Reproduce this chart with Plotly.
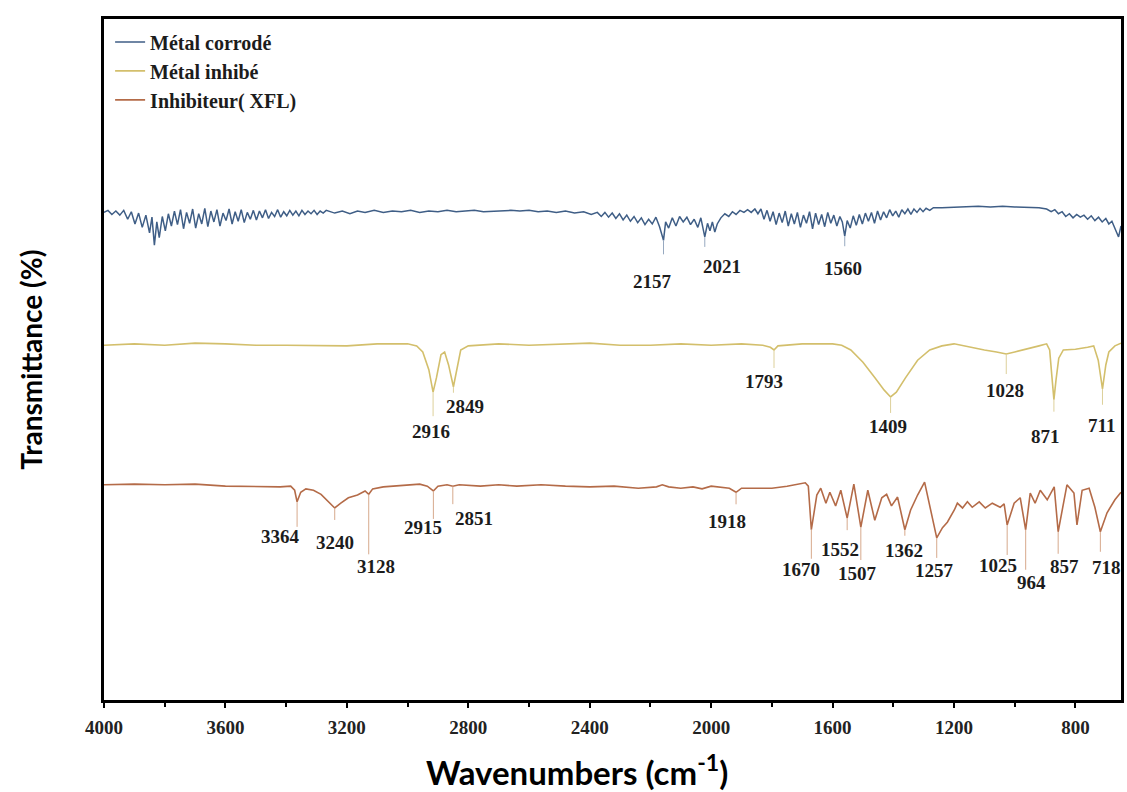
import plotly.graph_objects as go

# ---------------------------------------------------------------------------
# FTIR spectra (wavenumber in cm-1, transmittance in %, traces offset)
# ---------------------------------------------------------------------------

# Métal corrodé
corr_wn = [4000, 3987, 3974, 3961, 3948, 3935, 3922, 3910, 3898, 3886,
           3874, 3862, 3850, 3842, 3834, 3826, 3818, 3808, 3798, 3788,
           3778, 3768, 3758, 3748, 3738, 3728, 3718, 3708, 3698, 3688,
           3678, 3668, 3658, 3648, 3638, 3628, 3618, 3608, 3598, 3588,
           3578, 3568, 3558, 3548, 3538, 3528, 3518, 3508, 3498, 3488,
           3478, 3468, 3458, 3448, 3438, 3428, 3418, 3408, 3398, 3388,
           3378, 3368, 3358, 3348, 3338, 3328, 3318, 3308, 3298, 3288,
           3278, 3268, 3240, 3215, 3190, 3165, 3140, 3110, 3080, 3050,
           3020, 2990, 2960, 2930, 2900, 2870, 2840, 2810, 2780, 2750,
           2720, 2690, 2660, 2630, 2600, 2570, 2540, 2510, 2480, 2450,
           2420, 2395, 2375, 2362, 2350, 2338, 2326, 2314, 2302, 2290,
           2278, 2266, 2254, 2242, 2230, 2218, 2206, 2194, 2182, 2170,
           2157, 2150, 2140, 2128, 2116, 2104, 2092, 2080, 2068, 2056,
           2044, 2034, 2021, 2012, 2004, 1996, 1988, 1980, 1968, 1955,
           1942, 1930, 1918, 1905, 1892, 1880, 1868, 1856, 1846, 1836,
           1826, 1816, 1806, 1796, 1786, 1776, 1766, 1756, 1746, 1736,
           1726, 1716, 1706, 1696, 1686, 1676, 1666, 1656, 1646, 1636,
           1626, 1616, 1606, 1596, 1586, 1576, 1568, 1560, 1552, 1542,
           1532, 1522, 1512, 1502, 1492, 1482, 1472, 1462, 1452, 1442,
           1432, 1422, 1412, 1402, 1392, 1382, 1372, 1362, 1352, 1342,
           1332, 1322, 1312, 1302, 1292, 1280, 1268, 1240, 1200, 1160,
           1120, 1080, 1040, 1000, 960, 920, 895, 880, 868, 856,
           844, 832, 820, 808, 796, 784, 772, 760, 748, 736,
           724, 712, 700, 690, 680, 672, 664, 658, 652, 650]
corr_t = [71.6, 71.9, 71.3, 71.8, 71.2, 71.9, 70.6, 71.7, 69.9, 71.5,
          69.4, 71.2, 68.6, 70.9, 66.8, 70.2, 67.9, 71.0, 68.9, 71.4,
          69.6, 71.8, 69.8, 72.0, 69.2, 71.6, 70.0, 72.1, 69.3, 71.4,
          69.9, 72.2, 69.5, 71.8, 70.2, 72.0, 69.6, 71.5, 70.4, 72.1,
          69.9, 71.7, 70.3, 72.0, 70.1, 71.6, 70.6, 71.9, 70.5, 71.8,
          70.8, 72.0, 70.7, 71.6, 71.0, 72.0, 70.9, 71.7, 71.1, 71.9,
          71.2, 71.8, 71.1, 71.9, 71.3, 71.8, 71.4, 71.9, 71.3, 71.8,
          71.5, 71.9, 71.5, 71.8, 71.4, 71.8, 71.6, 71.9, 71.6, 71.8,
          71.7, 71.9, 71.6, 71.8, 71.7, 71.9, 71.7, 71.8, 71.9, 71.7,
          71.8, 71.8, 71.9, 71.8, 71.9, 71.7, 71.8, 71.6, 71.8, 71.5,
          71.7, 71.3, 71.6, 71.0, 71.6, 70.9, 71.5, 70.7, 71.4, 70.5,
          71.2, 70.3, 71.0, 70.1, 70.8, 69.8, 70.6, 69.9, 70.9, 69.5,
          67.5, 70.2, 69.3, 70.8, 69.6, 71.0, 70.2, 70.9, 69.8, 70.6,
          69.4, 70.8, 68.0, 70.0, 68.9, 70.2, 68.7, 69.9, 70.8, 71.4,
          71.0, 71.7, 71.3, 71.9, 71.6, 72.0, 71.6, 72.1, 71.4, 72.1,
          70.6, 71.9, 70.3, 71.7, 69.8, 71.5, 70.1, 71.8, 69.6, 71.4,
          69.9, 71.6, 69.4, 71.2, 70.0, 71.7, 69.2, 71.5, 69.8, 71.3,
          69.5, 71.6, 70.0, 71.2, 69.6, 71.0, 70.2, 68.1, 70.4, 69.3,
          71.1, 69.7, 71.3, 69.9, 71.5, 70.3, 71.6, 70.0, 71.8, 70.5,
          71.7, 70.8, 72.0, 71.1, 71.8, 70.9, 72.0, 71.4, 72.1, 71.3,
          72.1, 71.6, 72.2, 71.7, 72.2, 71.9, 72.3, 72.3, 72.4, 72.4,
          72.5, 72.4, 72.5, 72.4, 72.3, 72.3, 72.1, 71.7, 72.0, 71.4,
          71.7, 71.0, 71.4, 70.8, 71.3, 70.9, 71.2, 70.6, 71.1, 70.4,
          70.9, 70.2, 70.7, 69.9, 70.3, 69.4, 68.5, 68.0, 69.2, 69.6]

# Métal inhibé
inh_wn = [4000, 3900, 3800, 3700, 3600, 3500, 3400, 3300, 3200, 3100,
          3000, 2970, 2950, 2930, 2916, 2905, 2890, 2878, 2865, 2849,
          2838, 2825, 2800, 2700, 2600, 2500, 2400, 2300, 2200, 2100,
          2000, 1900, 1830, 1805, 1793, 1780, 1700, 1600, 1570, 1540,
          1500, 1460, 1430, 1409, 1390, 1360, 1320, 1280, 1240, 1200,
          1150, 1100, 1060, 1028, 1000, 960, 920, 895, 885, 878,
          871, 864, 855, 840, 800, 760, 740, 725, 711, 700,
          690, 670, 650]
inh_t = [52.1, 52.3, 52.1, 52.4, 52.3, 52.1, 52.1, 52.1, 52.0, 52.3,
         52.3, 52.0, 51.1, 48.5, 45.2, 47.3, 50.7, 51.1, 49.2, 46.0,
         48.5, 51.4, 52.0, 52.3, 52.1, 52.3, 52.4, 52.1, 52.1, 52.3,
         52.1, 52.3, 52.1, 51.8, 51.4, 52.0, 52.3, 52.3, 52.1, 51.4,
         49.6, 47.3, 45.5, 44.5, 45.2, 47.3, 49.9, 51.4, 52.0, 52.3,
         51.8, 51.4, 51.1, 50.8, 51.1, 51.5, 52.0, 52.3, 51.4, 47.7,
         44.1, 47.0, 50.2, 51.4, 51.5, 51.8, 52.0, 49.9, 45.7, 49.2,
         51.1, 52.0, 52.4]

# Inhibiteur (XFL)
xfl_wn = [4000, 3900, 3800, 3700, 3600, 3500, 3420, 3385, 3372, 3364,
          3352, 3335, 3310, 3285, 3262, 3240, 3220, 3195, 3165, 3140,
          3128, 3115, 3080, 3040, 3000, 2960, 2935, 2915, 2900, 2870,
          2851, 2830, 2760, 2700, 2640, 2560, 2480, 2400, 2320, 2240,
          2180, 2161, 2140, 2100, 2060, 2030, 2000, 1970, 1940, 1918,
          1900, 1860, 1800, 1750, 1720, 1690, 1680, 1670, 1652, 1639,
          1622, 1609, 1590, 1573, 1552, 1530, 1507, 1484, 1461, 1438,
          1422, 1406, 1386, 1362, 1343, 1320, 1297, 1278, 1257, 1238,
          1222, 1199, 1189, 1172, 1156, 1140, 1117, 1097, 1074, 1048,
          1035, 1025, 1002, 982, 964, 949, 933, 916, 893, 870,
          857, 828, 805, 795, 778, 755, 736, 718, 696, 670,
          650]
xfl_t = [31.6, 31.7, 31.6, 31.7, 31.4, 31.3, 31.3, 31.4, 30.8, 29.1,
         30.5, 31.0, 30.8, 30.2, 29.2, 28.2, 28.9, 29.7, 30.1, 30.7,
         30.2, 31.0, 31.3, 31.4, 31.6, 31.7, 31.4, 30.7, 31.4, 31.6,
         31.4, 31.6, 31.4, 31.6, 31.4, 31.6, 31.4, 31.3, 31.4, 31.1,
         31.3, 31.6, 31.3, 31.1, 31.3, 31.0, 31.4, 31.3, 31.1, 30.5,
         31.1, 31.1, 31.1, 31.4, 31.7, 31.9, 31.4, 25.0, 30.1, 31.1,
         28.9, 30.5, 28.5, 30.8, 26.7, 31.7, 25.4, 30.8, 26.4, 29.7,
         30.2, 28.5, 29.8, 25.0, 27.9, 30.1, 32.0, 27.9, 23.8, 25.3,
         26.1, 27.9, 28.9, 28.2, 29.1, 28.3, 29.1, 28.2, 28.9, 28.3,
         28.8, 25.7, 28.9, 29.7, 25.0, 30.4, 28.9, 30.8, 29.4, 31.3,
         24.7, 31.6, 30.4, 25.7, 30.8, 31.1, 28.3, 24.7, 27.5, 29.4,
         30.5]

# Labelled band positions (cm-1)
corr_peaks = [2157, 2021, 1560]
inh_peaks = [2916, 2849, 1793, 1409, 1028, 871, 711]
xfl_peaks = [3364, 3240, 3128, 2915, 2851, 1918, 1670, 1552, 1507,
             1362, 1257, 1025, 964, 857, 718]

x_ticks = [4000, 3600, 3200, 2800, 2400, 2000, 1600, 1200, 800]
x_minor_ticks = [3800, 3400, 3000, 2600, 2200, 1800, 1400, 1000]

# ---------------------------------------------------------------------------
# Styling
# ---------------------------------------------------------------------------
W, H = 1127, 792
M = dict(l=104, r=3, t=19, b=92)
Y_RANGE = [0, 100]
X_RANGE = [4000, 650]
PX_PER_UNIT = (H - M["t"] - M["b"]) / (Y_RANGE[1] - Y_RANGE[0])

SERIF = "Liberation Serif"
SANS = "Lato"

series = [
    dict(name="Métal corrodé", wn=corr_wn, t=corr_t, peaks=corr_peaks,
         color="#3f5e86", lead="#97a9c0", width=1.5),
    dict(name="Métal inhibé", wn=inh_wn, t=inh_t, peaks=inh_peaks,
         color="#d3bf6c", lead="#ddd09a", width=1.6),
    dict(name="Inhibiteur( XFL)", wn=xfl_wn, t=xfl_t, peaks=xfl_peaks,
         color="#b46b48", lead="#d7a98c", width=1.6),
]

# label placement: (text dx px, text dy px below the band, leader length px)
label_place = {
    "Métal corrodé": {2157: (-11, 41, 14), 2021: (17, 30, 10), 1560: (-2, 32, 10)},
    "Métal inhibé": {2916: (-2, 39, 24), 2849: (12, 20, 6), 1793: (-10, 32, 18),
                     1409: (-3, 30, 16), 1028: (-1, 36, 20), 871: (-8, 37, 12),
                     711: (-1, 37, 16)},
    "Inhibiteur( XFL)": {3364: (-17, 35, 25), 3240: (0, 35, 12), 3128: (7, 72, 60),
                         2915: (-10, 37, 28), 2851: (21, 32, 18), 1918: (-9, 29, 12),
                         1670: (-10, 40, 29), 1552: (-7, 31, 12), 1507: (-3, 46, 33),
                         1362: (-1, 21, 6), 1257: (-2, 33, 20), 1025: (-9, 41, 30),
                         964: (6, 53, 40), 857: (6, 35, 22), 718: (6, 36, 20)},
}

fig = go.Figure()
annotations = []

for s in series:
    fig.add_trace(go.Scatter(
        x=s["wn"], y=s["t"], mode="lines", name=s["name"],
        legendgroup=s["name"],
        line=dict(color=s["color"], width=s["width"]),
    ))
    lookup = dict(zip(s["wn"], s["t"]))
    lx, ly = [], []
    for p in s["peaks"]:
        dx, dy, lead = label_place[s["name"]][p]
        yv = lookup[p]
        lx += [p, p, None]
        ly += [yv, yv - lead / PX_PER_UNIT, None]
        annotations.append(dict(
            x=p, y=yv, xref="x", yref="y", text=str(p), showarrow=False,
            xanchor="center", yanchor="middle", xshift=dx, yshift=-dy,
            font=dict(family=SERIF, size=19, color="#1c1c1c", weight="bold"),
        ))
    fig.add_trace(go.Scatter(
        x=lx, y=ly, mode="lines", showlegend=False, hoverinfo="skip",
        line=dict(color=s["lead"], width=1),
    ))

# axis titles
annotations.append(dict(
    x=(578 - M["l"]) / (W - M["l"] - M["r"]), y=-0.103, xref="paper", yref="paper",
    text="<b>Wavenumbers (cm<sup>-1</sup>)</b>", showarrow=False,
    xanchor="center", yanchor="middle",
    font=dict(family=SANS, size=33, color="#000"),
))
annotations.append(dict(
    x=(30 - M["l"]) / (W - M["l"] - M["r"]), y=0.5, xref="paper", yref="paper",
    text="<b>Transmittance (%)</b>", showarrow=False, textangle=-90,
    xanchor="center", yanchor="middle",
    font=dict(family=SANS, size=28, color="#000"),
))

fig.update_layout(
    width=W, height=H, margin=M,
    paper_bgcolor="white", plot_bgcolor="white",
    showlegend=True,
    legend=dict(
        x=0.006, y=0.995, xanchor="left", yanchor="top",
        bgcolor="rgba(0,0,0,0)", tracegroupgap=0,
        font=dict(family=SERIF, size=20, color="#1c1c1c", weight="bold"),
    ),
    annotations=annotations,
)

fig.update_xaxes(
    range=X_RANGE, tickmode="array", tickvals=x_ticks,
    ticks="outside", ticklen=5, tickwidth=2, tickcolor="#000",
    minor=dict(tickmode="array", tickvals=x_minor_ticks,
               ticks="outside", ticklen=4, tickwidth=1.5, tickcolor="#000"),
    tickfont=dict(family=SERIF, size=19, color="#222", weight="bold"),
    ticklabelstandoff=3,
    showline=True, linewidth=3, linecolor="#000", mirror=True,
    showgrid=False, zeroline=False,
)
fig.update_yaxes(
    range=Y_RANGE, showticklabels=False, ticks="",
    showline=True, linewidth=3, linecolor="#000", mirror=True,
    showgrid=False, zeroline=False,
)

fig.write_html("out.html")
